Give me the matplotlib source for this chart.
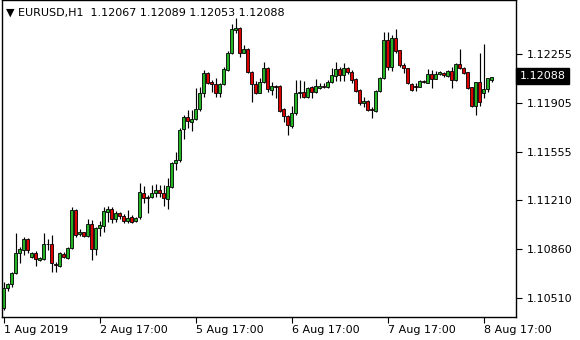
import matplotlib.pyplot as plt

# H1 candles, EURUSD
opens = [1.10434, 1.10577, 1.10606, 1.10685, 1.10828, 1.10851, 1.10928, 1.10799, 1.10828, 1.10780,
         1.10787, 1.10892, 1.10894, 1.10751, 1.10739, 1.10823, 1.10797, 1.10864, 1.11138, 1.10964,
         1.10978, 1.10954, 1.11037, 1.10856, 1.11007, 1.11025, 1.11125, 1.11145, 1.11071, 1.11114,
         1.11097, 1.11061, 1.11085, 1.11061, 1.11085, 1.11257, 1.11233, 1.11229, 1.11257, 1.11281,
         1.11257, 1.11214, 1.11304, 1.11472, 1.11495, 1.11715, 1.11805, 1.11770, 1.11787, 1.11858,
         1.11977, 1.12120, 1.12056, 1.12039, 1.11973, 1.12039, 1.12140, 1.12263, 1.12426, 1.12438,
         1.12263, 1.12288, 1.12127, 1.12039, 1.11977, 1.12056, 1.12152, 1.11997, 1.12025, 1.12025,
         1.11858, 1.11810, 1.11737, 1.11830, 1.11973, 1.11984, 1.11949, 1.12016, 1.11984, 1.12009,
         1.12025, 1.12020, 1.12056, 1.12097, 1.12145, 1.12104, 1.12152, 1.12127, 1.12073, 1.11997,
         1.11901, 1.11920, 1.11863, 1.11848, 1.11992, 1.12080, 1.12354, 1.12163, 1.12367, 1.12283,
         1.12175, 1.12152, 1.12039, 1.12025, 1.12020, 1.12061, 1.12049, 1.12111, 1.12077, 1.12111,
         1.12120, 1.12099, 1.12132, 1.12068, 1.12183, 1.12152, 1.12125, 1.12016, 1.11882, 1.12054,
         1.11973, 1.12001, 1.12067]
highs = [1.10625, 1.10613, 1.10696, 1.10971, 1.10875, 1.10942, 1.10935, 1.10839, 1.10846, 1.10799,
         1.10971, 1.10928, 1.10959, 1.10768, 1.10839, 1.10839, 1.10871, 1.11161, 1.11145, 1.10999,
         1.10982, 1.11071, 1.11066, 1.11018, 1.11061, 1.11161, 1.11168, 1.11161, 1.11133, 1.11125,
         1.11107, 1.11138, 1.11102, 1.11085, 1.11329, 1.11309, 1.11245, 1.11317, 1.11324, 1.11317,
         1.11317, 1.11365, 1.11483, 1.11555, 1.11722, 1.11818, 1.11853, 1.11853, 1.12009, 1.12016,
         1.12140, 1.12127, 1.12068, 1.12080, 1.12049, 1.12159, 1.12278, 1.12469, 1.12510, 1.12450,
         1.12319, 1.12295, 1.12135, 1.12063, 1.12080, 1.12195, 1.12159, 1.12056, 1.12032, 1.12032,
         1.11866, 1.11818, 1.11882, 1.12068, 1.12068, 1.12063, 1.12020, 1.12025, 1.12073, 1.12049,
         1.12049, 1.12068, 1.12152, 1.12199, 1.12163, 1.12188, 1.12163, 1.12140, 1.12080, 1.12002,
         1.11944, 1.11925, 1.11877, 1.11997, 1.12092, 1.12414, 1.12414, 1.12390, 1.12431, 1.12283,
         1.12188, 1.12152, 1.12044, 1.12044, 1.12068, 1.12068, 1.12145, 1.12140, 1.12135, 1.12130,
         1.12127, 1.12140, 1.12163, 1.12188, 1.12288, 1.12163, 1.12127, 1.12020, 1.12056, 1.12259,
         1.12326, 1.12080, 1.12089]
lows = [1.10422, 1.10560, 1.10584, 1.10680, 1.10756, 1.10816, 1.10828, 1.10792, 1.10739, 1.10773,
        1.10780, 1.10851, 1.10696, 1.10696, 1.10732, 1.10792, 1.10785, 1.10859, 1.10947, 1.10952,
        1.10947, 1.10947, 1.10780, 1.10816, 1.10952, 1.10982, 1.11054, 1.11043, 1.11054, 1.11071,
        1.11043, 1.11047, 1.11043, 1.11054, 1.11071, 1.11190, 1.11118, 1.11221, 1.11233, 1.11233,
        1.11168, 1.11143, 1.11297, 1.11424, 1.11483, 1.11646, 1.11722, 1.11705, 1.11782, 1.11848,
        1.11944, 1.12039, 1.11984, 1.11944, 1.11944, 1.12032, 1.12135, 1.12254, 1.12407, 1.12235,
        1.12259, 1.12116, 1.11913, 1.11968, 1.11973, 1.12044, 1.11984, 1.11961, 1.11937, 1.11841,
        1.11770, 1.11674, 1.11728, 1.11818, 1.11937, 1.11937, 1.11937, 1.11937, 1.11977, 1.12001,
        1.12009, 1.12013, 1.12049, 1.12063, 1.12063, 1.12063, 1.12111, 1.12044, 1.11984, 1.11889,
        1.11877, 1.11846, 1.11794, 1.11841, 1.11984, 1.12073, 1.12140, 1.12135, 1.12259, 1.12163,
        1.12116, 1.12039, 1.11992, 1.11992, 1.12016, 1.12049, 1.12044, 1.12013, 1.12073, 1.12104,
        1.12092, 1.12092, 1.12009, 1.12063, 1.12145, 1.12111, 1.12004, 1.11873, 1.11818, 1.11882,
        1.11937, 1.11984, 1.12053]
closes = [1.10577, 1.10606, 1.10685, 1.10832, 1.10856, 1.10928, 1.10851, 1.10828, 1.10785, 1.10792,
          1.10894, 1.10894, 1.10756, 1.10742, 1.10828, 1.10799, 1.10864, 1.11138, 1.10959, 1.10978,
          1.10954, 1.11037, 1.10856, 1.11007, 1.11030, 1.11130, 1.11145, 1.11071, 1.11114, 1.11097,
          1.11061, 1.11078, 1.11054, 1.11078, 1.11264, 1.11221, 1.11221, 1.11257, 1.11281, 1.11257,
          1.11221, 1.11309, 1.11472, 1.11495, 1.11710, 1.11801, 1.11775, 1.11789, 1.11858, 1.11977,
          1.12120, 1.12049, 1.12039, 1.11973, 1.12039, 1.12145, 1.12263, 1.12431, 1.12438, 1.12263,
          1.12288, 1.12127, 1.12039, 1.11977, 1.12056, 1.12152, 1.12001, 1.12025, 1.12020, 1.11848,
          1.11810, 1.11746, 1.11830, 1.11973, 1.11984, 1.11949, 1.12009, 1.11984, 1.12025, 1.12025,
          1.12020, 1.12056, 1.12104, 1.12145, 1.12104, 1.12152, 1.12127, 1.12068, 1.11992, 1.11901,
          1.11920, 1.11853, 1.11853, 1.11992, 1.12080, 1.12354, 1.12163, 1.12367, 1.12278, 1.12175,
          1.12152, 1.12044, 1.11997, 1.12016, 1.12061, 1.12054, 1.12111, 1.12077, 1.12111, 1.12123,
          1.12102, 1.12132, 1.12068, 1.12183, 1.12152, 1.12120, 1.12009, 1.11882, 1.12054, 1.11913,
          1.12001, 1.12080, 1.12088]

xtick_bars = [0, 24, 48, 72, 96, 120]
xtick_labels = ["1 Aug 2019", "2 Aug 17:00", "5 Aug 17:00", "6 Aug 17:00", "7 Aug 17:00", "8 Aug 17:00"]
yticks = [1.10510, 1.10860, 1.11210, 1.11555, 1.11905, 1.12255]

title = "EURUSD,H1  1.12067 1.12089 1.12053 1.12088"

bull_color = "#22b422"
bear_color = "#dc0000"

ymin, ymax = 1.10372, 1.12641
fig = plt.figure(figsize=(5.8, 3.4), dpi=100)
ax = fig.add_axes([2 / 580, 23 / 340, 514 / 580, 317 / 340])
ax.set_xlim(-0.375, 128.125)
ax.set_ylim(ymin, ymax)

n = len(opens)
xs = list(range(n))
tops = [max(o, c) for o, c in zip(opens, closes)]
bots = [min(o, c) for o, c in zip(opens, closes)]
cols = [bull_color if c >= o else bear_color for o, c in zip(opens, closes)]

# wicks
ax.vlines(xs, lows, highs, color="black", linewidth=0.85, zorder=1)
# bodies: coloured with thin black outline
ax.bar(xs, [t - b for t, b in zip(tops, bots)], bottom=bots, width=0.72,
       color=cols, edgecolor="black", linewidth=0.6, zorder=2)

ax.set_xticks(xtick_bars)
ax.set_xticklabels(xtick_labels, ha="left")
ax.yaxis.tick_right()
ax.set_yticks(yticks)
ax.set_yticklabels([f"{v:.5f}" for v in yticks])
ax.tick_params(axis="both", direction="out", length=4, width=0.8, labelsize=8, colors="black")
ax.tick_params(axis="x", pad=1.5)
ax.tick_params(axis="y", pad=4)
for s in ax.spines.values():
    s.set_linewidth(1.0)
    s.set_color("black")

# title with the down triangle
ax.text(0.008, 0.975, "\u25bc " + title, transform=ax.transAxes, fontsize=8,
        va="top", ha="left", color="black")

# last price tag
last = closes[-1]
ax.annotate(f"{last:.5f}", xy=(1.0, last), xycoords=("axes fraction", "data"),
            xytext=(2.5, 1), textcoords="offset points", va="center", ha="left",
            fontsize=8, color="white",
            bbox=dict(boxstyle="square,pad=0.3", facecolor="black", edgecolor="black"))

fig.savefig("out.png", dpi=100)
